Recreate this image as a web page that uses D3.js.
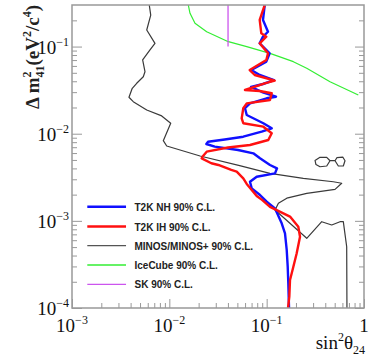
<!DOCTYPE html>
<html><head><meta charset="utf-8">
<script src="https://cdn.jsdelivr.net/npm/d3@7"></script>
<style>body{margin:0;background:#fff}</style>
</head><body><svg id="c" width="377" height="360"></svg>
<script>
// ---- data ----
const nhX = [0.0955,0.0917,0.1032,0.0917,0.0848,0.1074,0.0992,0.0696,0.0848,0.119,0.0917,0.0691,0.0896,0.1247,0.100,0.0674,0.0599,0.0624,0.0924,0.1127,0.0889,0.0575,0.0371,0.0250,0.0240,0.0293,0.0508,0.0729,0.0854,0.1082,0.1277,0.1218,0.0790,0.0674,0.0702,0.0854,0.1001,0.1218,0.1427,0.1543,0.1607,0.1645,0.1669,0.1697];
const nhY = [0.3,0.202,0.148,0.130,0.109,0.0837,0.0671,0.0538,0.0472,0.0413,0.0372,0.0344,0.0301,0.0266,0.0255,0.0223,0.0196,0.0164,0.0132,0.01154,0.01055,0.00924,0.00859,0.0081,0.00762,0.0071,0.0065,0.00596,0.00522,0.00438,0.00401,0.00351,0.00321,0.00281,0.00236,0.00198,0.00166,0.00139,0.000938,0.00072,0.000463,0.000298,0.000192,0.0001];
const ihX = [0.0955,0.0848,0.0881,0.0992,0.0848,0.1032,0.0992,0.0670,0.0754,0.121,0.0955,0.0599,0.0848,0.1127,0.1082,0.0624,0.0575,0.0554,0.0575,0.0924,0.1127,0.1039,0.0674,0.0401,0.0242,0.0222,0.0215,0.0270,0.0319,0.0433,0.0492,0.0575,0.0624,0.0790,0.0896,0.1082,0.1268,0.1737,0.2114,0.2201,0.2035,0.188,0.1737,0.1709,0.1657];
const ihY = [0.3,0.202,0.142,0.130,0.109,0.0837,0.0702,0.0538,0.0472,0.0406,0.0379,0.03175,0.0309,0.0291,0.0244,0.0223,0.0196,0.0150,0.0132,0.01204,0.01011,0.00847,0.00742,0.00695,0.00622,0.00555,0.00522,0.00458,0.00438,0.00384,0.00367,0.00308,0.00265,0.00193,0.00174,0.00145,0.00133,0.00112,0.000857,0.000658,0.000424,0.000298,0.00021,0.000135,0.0001];
const minosX = [0.00622,0.00644,0.00586,0.00712,0.00633,0.00532,0.00562,0.0054,0.00462,0.00416,0.00385,0.00426,0.00586,0.00835,0.01033,0.00867,0.0094,0.0207,0.0528,0.108,0.238,0.484,0.590,0.504,0.258,0.161,0.132,0.122,0.258,0.368,0.466,0.567,0.613,0.664,0.668];
const minosY = [0.3,0.23,0.155,0.109,0.0914,0.0702,0.0515,0.0451,0.0379,0.0332,0.0262,0.0233,0.0187,0.016,0.0132,0.00832,0.00723,0.00555,0.0043,0.00351,0.00308,0.00281,0.0027,0.0023,0.00207,0.00182,0.00159,0.00133,0.000631,0.000978,0.000897,0.000978,0.000978,0.000505,0.0001];
const islandX = [0.4475,0.414,0.353,0.314,0.321,0.353,0.414,0.4475,0.504,0.528,0.605,0.638,0.613,0.545,0.504];
const islandY = [0.0049,0.00536,0.00536,0.00493,0.00443,0.00418,0.00426,0.0049,0.0049,0.00533,0.0054,0.0049,0.00426,0.00426,0.0049];
const iceX = [0.01566,0.01631,0.01835,0.0242,0.0404,0.0624,0.1082,0.188,0.258,0.4475,0.874];
const iceY = [0.3,0.241,0.185,0.1482,0.1138,0.0997,0.0837,0.0671,0.0563,0.0395,0.0278];
const skX = [0.0401,0.0401];
const skY = [0.1,0.3];
const xMajor = [1e-3,1e-2,1e-1,1];
const xMajorLabels = [["10","\u22123"],["10","\u22122"],["10","\u22121"],["1",""]];
const yMajor = [1e-4,1e-3,1e-2,1e-1];
const yMajorLabels = [["10","\u22124"],["10","\u22123"],["10","\u22122"],["10","\u22121"]];
const legendLabels = ["T2K NH 90% C.L.","T2K IH 90% C.L.","MINOS/MINOS+ 90% C.L.","IceCube 90% C.L.","SK 90% C.L."];

// ---- drawing ----
const svg = d3.select("#c");
const L=72, R=364, T=5, B=308;
const x = d3.scaleLog().domain([1e-3,1]).range([L,R]);
const y = d3.scaleLog().domain([1e-4,0.3]).range([B,T]);
const serif = "'Liberation Serif','Times New Roman',serif";
const sans = "'Liberation Sans',Arial,sans-serif";

function minors(lo,hi,dom){const out=[];for(let e=lo;e<=hi;e++)for(let k=2;k<=9;k++){const v=k*Math.pow(10,e);if(v>=dom[0]&&v<=dom[1])out.push(v);}return out;}
const xMinor = minors(-3,-1,[1e-3,1]);
const yMinor = minors(-4,-1,[1e-4,0.3]);

const axColor="#999";
function styleAxis(g){g.select(".domain").remove();g.selectAll("line").attr("stroke",axColor).attr("stroke-width",1);}
// left
svg.append("g").attr("transform",`translate(${L},0)`).call(d3.axisLeft(y).tickValues(yMajor).tickSize(-10).tickFormat("")).call(styleAxis);
svg.append("g").attr("transform",`translate(${L},0)`).call(d3.axisLeft(y).tickValues(yMinor).tickSize(-5).tickFormat("")).call(styleAxis);
// right
svg.append("g").attr("transform",`translate(${R},0)`).call(d3.axisRight(y).tickValues(yMajor).tickSize(-9).tickFormat("")).call(styleAxis);
svg.append("g").attr("transform",`translate(${R},0)`).call(d3.axisRight(y).tickValues(yMinor).tickSize(-5).tickFormat("")).call(styleAxis);
// bottom
svg.append("g").attr("transform",`translate(0,${B})`).call(d3.axisBottom(x).tickValues(xMajor).tickSize(-9).tickFormat("")).call(styleAxis);
svg.append("g").attr("transform",`translate(0,${B})`).call(d3.axisBottom(x).tickValues(xMinor).tickSize(-5).tickFormat("")).call(styleAxis);

// curves
const clip = svg.append("clipPath").attr("id","clp").append("rect").attr("x",L).attr("y",T).attr("width",R-L).attr("height",B-T);
const plot = svg.append("g").attr("clip-path","url(#clp)");
const line = d3.line().x(d=>x(d[0])).y(d=>y(d[1]));
function series(xs,ys,color,w){plot.append("path").attr("d",line(xs.map((v,i)=>[v,ys[i]]))).attr("fill","none").attr("stroke",color).attr("stroke-width",w).attr("stroke-linejoin","round");}
const cMinos="#3a3a3a", cIce="#33ee33", cSK="#cc55ee", cNH="#1010ff", cIH="#ff1010";
series(minosX,minosY,cMinos,1.2);
series(islandX,islandY,cMinos,1.2);
series(iceX,iceY,cIce,1.2);
series(skX,skY,cSK,1.3);
series(nhX,nhY,cNH,2.4);
series(ihX,ihY,cIH,2.4);

// frame
svg.append("rect").attr("x",L).attr("y",T).attr("width",R-L).attr("height",B-T).attr("fill","none").attr("stroke",axColor).attr("stroke-width",1.5);

// tick labels
xMajor.forEach((v,i)=>{
  const t=svg.append("text").attr("x",x(v)).attr("y",332).attr("text-anchor","middle").attr("font-family",serif).attr("font-size",19).attr("fill","#111");
  t.append("tspan").text(xMajorLabels[i][0]);
  if(xMajorLabels[i][1]) t.append("tspan").attr("font-size",12).attr("dy",-8).text(xMajorLabels[i][1]);
});
yMajor.forEach((v,i)=>{
  const t=svg.append("text").attr("x",69).attr("y",y(v)+7).attr("text-anchor","end").attr("font-family",serif).attr("font-size",19).attr("fill","#111");
  t.append("tspan").text(yMajorLabels[i][0]);
  t.append("tspan").attr("font-size",12).attr("dy",-8).text(yMajorLabels[i][1]);
});

// axis titles
const xt=svg.append("text").attr("x",365).attr("y",349).attr("text-anchor","end").attr("font-family",serif).attr("font-size",19).attr("fill","#111");
xt.append("tspan").text("sin");
xt.append("tspan").attr("font-size",12).attr("dy",-8).text("2");
xt.append("tspan").attr("dy",8).text("\u03b8");
xt.append("tspan").attr("font-size",12).attr("dy",5).text("24");

const yt=svg.append("text").attr("transform","translate(39,57) rotate(-90)").attr("text-anchor","middle").attr("font-family",serif).attr("font-size",19).attr("font-weight","bold").attr("fill","#222");
yt.append("tspan").text("\u0394 m");
yt.append("tspan").attr("font-size",12).attr("dy",-8).text("2");
yt.append("tspan").attr("font-size",12).attr("dx",-6).attr("dy",13).text("41");
yt.append("tspan").attr("dy",-5).text("(eV");
yt.append("tspan").attr("font-size",12).attr("dy",-8).text("2");
yt.append("tspan").attr("dy",8).text("/c");
yt.append("tspan").attr("font-size",12).attr("dy",-8).text("4");
yt.append("tspan").attr("dy",8).text(")");

// legend
const legColors=[cNH,cIH,"#555",cIce,cSK], legW=[2.6,2.6,1.3,1.3,1.3], legY=[206.7,226.5,245.7,265,284.3];
legendLabels.forEach((s,i)=>{
  svg.append("line").attr("x1",x(0.001436)).attr("x2",x(0.00359)).attr("y1",legY[i]).attr("y2",legY[i]).attr("stroke",legColors[i]).attr("stroke-width",legW[i]);
  svg.append("text").attr("x",134.5).attr("y",legY[i]+4).attr("font-family",sans).attr("font-weight","bold").attr("font-size",10).attr("fill","#222").text(s);
});
</script></body></html>
